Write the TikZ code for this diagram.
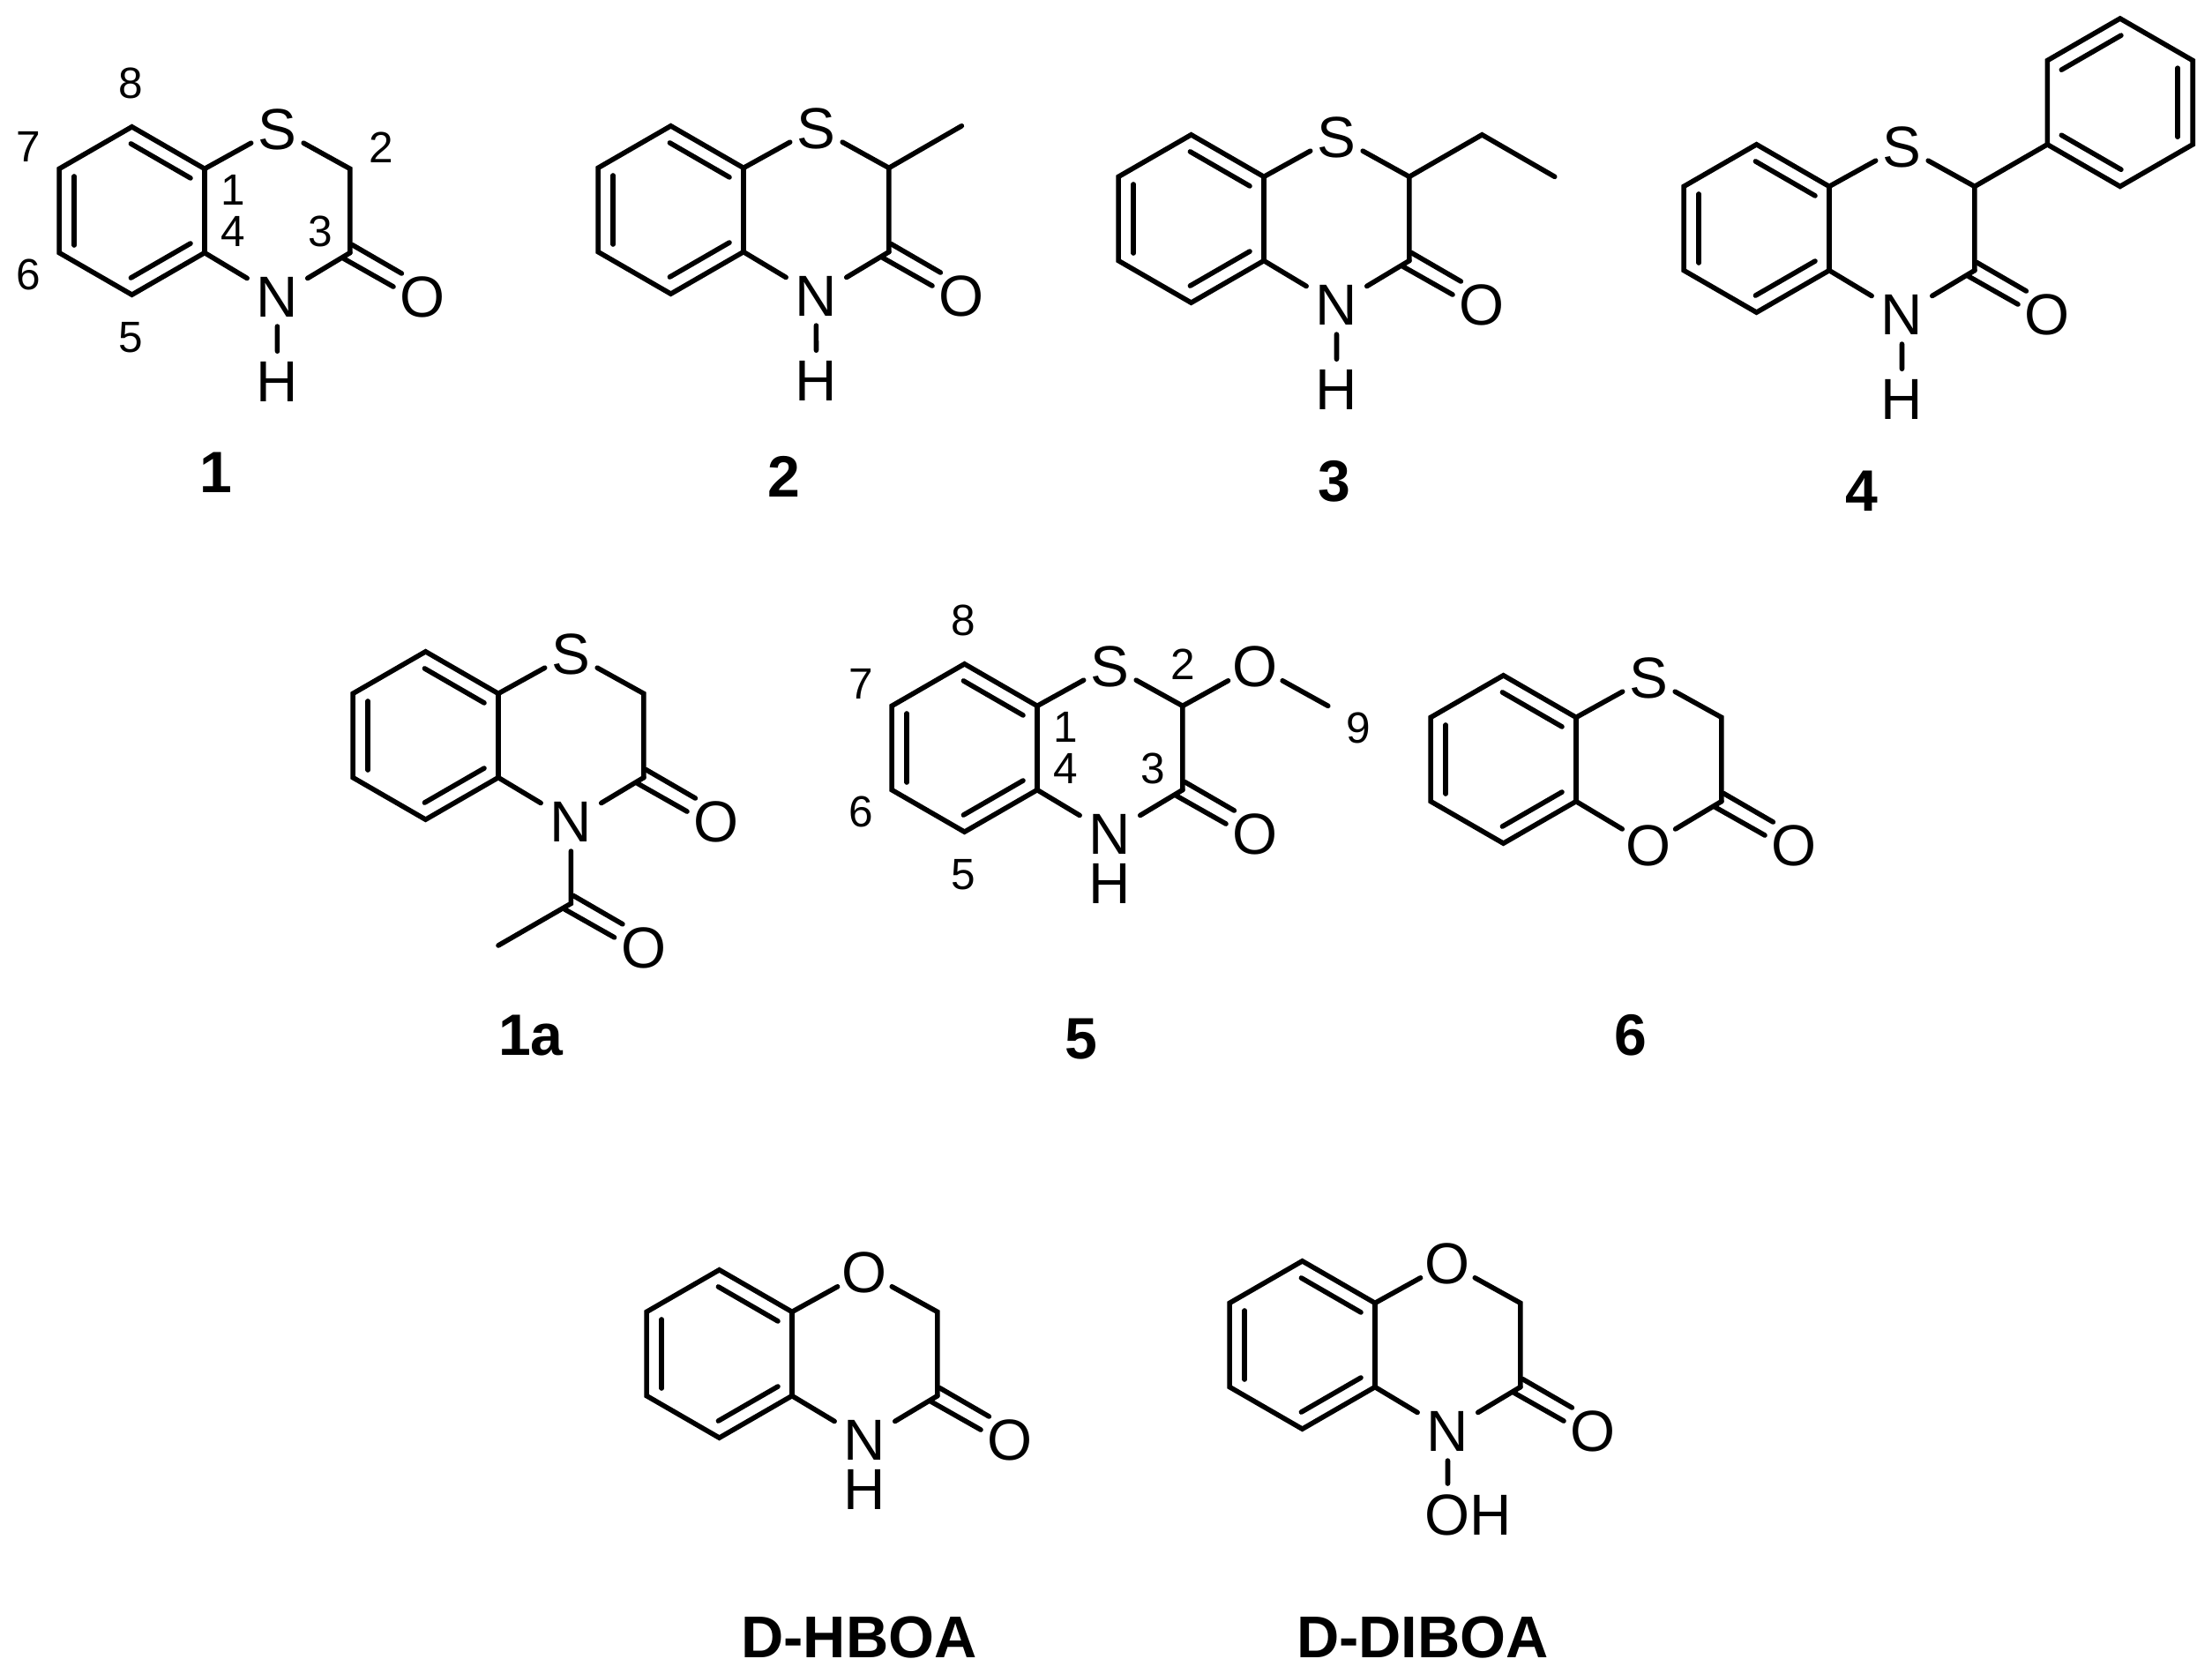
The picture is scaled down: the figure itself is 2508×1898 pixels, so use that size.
\documentclass[tikz,border=0pt]{standalone}
\usepackage{fontspec}
\setmainfont{Liberation Sans}
\usepackage{tikz}
\usetikzlibrary{positioning}

% benzene ring fused to the six-membered ring, in units of 1/100 bond
\newcommand{\ringcore}[3]{%
    \coordinate (#1f1) at (0,-50);
    \coordinate (#1f2) at (0,50);
    \coordinate (#1a) at (-86.6,-100);
    \coordinate (#1b) at (-173.2,-50);
    \coordinate (#1c) at (-173.2,50);
    \coordinate (#1d) at (-86.6,100);
    \coordinate (#1c2) at (173.2,-50);
    \coordinate (#1c3) at (173.2,50);
    \node[atom] (#1x) at (86.6,-98) {#2};
    \node[atom] (#1n) at (86.6,102) {#3};
    \node[atom] (#1o) at (259.8,102) {O};
    \draw[bond] (#1f1) -- (#1a) -- (#1b) -- (#1c) -- (#1d) -- (#1f2) -- cycle;
    \draw[bond] ([shift={(-1.2,20.1)}]#1a) -- ([shift={(-16.8,11.1)}]#1f1);
    \draw[bond] ([shift={(18,9)}]#1b) -- ([shift={(18,-9)}]#1c);
    \draw[bond] ([shift={(-1.2,-20.1)}]#1d) -- ([shift={(-16.8,-11.1)}]#1f2);
    \draw[bond] (#1f1) -- (#1x) -- (#1c2) -- (#1c3);
    \draw[nbond] (#1f2) -- (#1n);
    \draw[nbond] (#1c3) -- (#1n);
    \draw[bond] ([shift={(2.5,-9.5)}]#1c3) -- ([shift={(-25.2,-27.4)}]#1o.center);
    \draw[bond] ([shift={(-7.4,7)}]#1c3) -- ([shift={(-35,-11.6)}]#1o.center);
}

% ring numbering
\newcommand{\ringnums}[1]{%
    \node[numb] (#1n8) at (-88,-152) {8};
    \node[numb] (#1n7) at (-210,-77) {7};
    \node[numb] (#1n6) at (-210,75) {6};
    \node[numb] (#1n5) at (-88,150) {5};
    \node[numb] (#1n1) at (34,-25) {1};
    \node[numb] (#1n4) at (34,24) {4};
    \node[numb] (#1n3) at (138,24) {3};
}

\begin{document}
\begin{tikzpicture}[
        x=0.01cm, y=-0.01cm,
        mol/.style={scale=0.952, transform shape},
        bond/.style={draw, line width=0.056cm, line cap=round},
        nbond/.style={bond, shorten >=0.06cm},
        atom/.style={circle, inner sep=0pt, minimum size=0.7cm, text height=0.49cm, text depth=0pt, font=\fontsize{19.6}{20}\selectfont},
        numb/.style={inner sep=0pt, text height=0.37cm, text depth=0pt, font=\fontsize{14.8}{16}\selectfont},
        title/.style={inner sep=0pt, text height=0.46cm, text depth=0pt, font=\fontsize{18.8}{19}\selectfont\bfseries},
        bigtitle/.style={inner sep=0pt, text height=0.47cm, text depth=0pt, font=\fontsize{19}{20}\selectfont\bfseries}
    ]
    \useasboundingbox (0,0) rectangle (2508,1898);

    % top row
    \begin{scope}[shift={(232,239)}, mol]
        \ringcore{a}{S}{N}
        \ringnums{a}
        \node[numb] (an2) at (210,-76) {2};
        \node[atom] (ah) at (86.6,203) {H};
        \draw[bond] (an) -- (ah);
    \end{scope}
    \node[title] (label1) at (245,535) {1};

    \begin{scope}[shift={(843,238)}, mol]
        \ringcore{b}{S}{N}
        \coordinate (bme) at (259.8,-100);
        \node[atom] (bh) at (86.6,203) {H};
        \draw[bond] (bc2) -- (bme);
        \draw[bond] (bn) -- (bh);
    \end{scope}
    \node[title] (label2) at (889,540) {2};

    \begin{scope}[shift={(1433,248)}, mol]
        \ringcore{c}{S}{N}
        \coordinate (cet) at (259.8,-100);
        \coordinate (cme) at (346.4,-50);
        \node[atom] (ch) at (86.6,203) {H};
        \draw[bond] (cc2) -- (cet) -- (cme);
        \draw[bond] (cn) -- (ch);
    \end{scope}
    \node[title] (label3) at (1513,545) {3};

    \begin{scope}[shift={(2074,259)}, mol]
        \ringcore{d}{S}{N}
        \coordinate (dp1) at (259.8,-100);
        \coordinate (dp2) at (346.4,-50);
        \coordinate (dp3) at (433,-100);
        \coordinate (dp4) at (433,-200);
        \coordinate (dp5) at (346.4,-250);
        \coordinate (dp6) at (259.8,-200);
        \node[atom] (dh) at (86.6,203) {H};
        \draw[bond] (dc2) -- (dp1);
        \draw[bond] (dp1) -- (dp2) -- (dp3) -- (dp4) -- (dp5) -- (dp6) -- cycle;
        \draw[bond] ([shift={(16.8,-11.1)}]dp1) -- ([shift={(1.2,-20.1)}]dp2);
        \draw[bond] ([shift={(-18,9)}]dp4) -- ([shift={(-18,-9)}]dp3);
        \draw[bond] ([shift={(16.8,11.1)}]dp6) -- ([shift={(1.2,20.1)}]dp5);
        \draw[bond] (dn) -- (dh);
    \end{scope}
    \node[title] (label4) at (2111,556) {4};

    % middle row
    \begin{scope}[shift={(565,834)}, mol]
        \ringcore{e}{S}{N}
        \coordinate (eco) at (86.6,200);
        \coordinate (eme) at (0,250);
        \node[atom] (eo2) at (173.2,252) {O};
        \draw[bond] (en) -- (eco) -- (eme);
        \draw[bond] ([shift={(2.5,-9.5)}]eco) -- ([shift={(-25.2,-27.4)}]eo2.center);
        \draw[bond] ([shift={(-7.4,7)}]eco) -- ([shift={(-35,-11.6)}]eo2.center);
    \end{scope}
    \node[title] (label1a) at (602,1173) {1a};

    \begin{scope}[shift={(1176,848)}, mol]
        \ringcore{f}{S}{N}
        \ringnums{f}
        \node[numb] (fn2) at (174,-100) {2};
        \node[numb] (fn9) at (383,-24) {9};
        \node[atom] (fo2) at (259.8,-98) {O};
        \coordinate (fme) at (346.4,-50);
        \node[atom] (fh) at (86.6,161) {H};
        \draw[bond] (fc2) -- (fo2) -- (fme);
    \end{scope}
    \node[title] (label5) at (1226,1177) {5};

    \begin{scope}[shift={(1787,861)}, mol, nbond/.style={bond}]
        \ringcore{g}{S}{O}
    \end{scope}
    \node[title] (label6) at (1849,1173) {6};

    % bottom row
    \begin{scope}[shift={(898,1535)}, mol]
        \ringcore{h}{O}{N}
        \node[atom] (hh) at (86.6,161) {H};
    \end{scope}
    \node[bigtitle] (labelhboa) at (974,1856) {D-HBOA};

    \begin{scope}[shift={(1559,1525)}, mol]
        \ringcore{i}{O}{N}
        \node[atom] (ioh) at (86.6,202) {O\rlap{H}};
        \draw[bond] (in) -- (ioh);
    \end{scope}
    \node[bigtitle] (labeldiboa) at (1613,1856) {D-DIBOA};
\end{tikzpicture}
\end{document}
